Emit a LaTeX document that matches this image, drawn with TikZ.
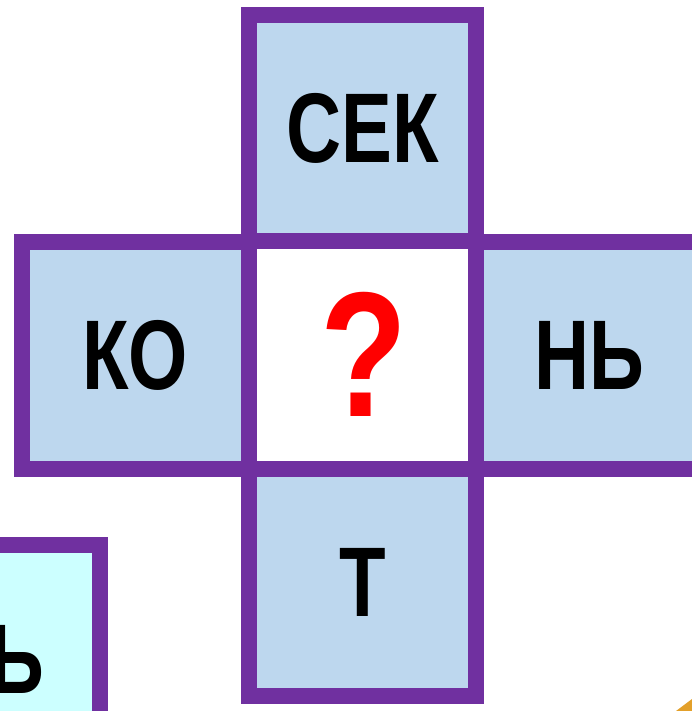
\documentclass[tikz,border=0pt]{standalone}
\usepackage{fontspec}
\newfontfamily\boxfont[FakeStretch=0.77]{Liberation Sans Bold}
\newfontfamily\qfont[FakeStretch=0.8]{Liberation Sans Bold}
\definecolor{purp}{HTML}{7030A0}
\definecolor{cellblue}{HTML}{BDD7EE}
\definecolor{cellcyan}{HTML}{CCFFFF}
\definecolor{orng}{HTML}{E3A02A}
\tikzset{
  cell/.style={draw=purp, line width=16pt, fill=cellblue, minimum width=226.7pt, minimum height=226.5pt, inner sep=0pt, font=\boxfont\fontsize{99}{99}\selectfont, text=black},
  blank/.style={fill=white, minimum width=227pt, minimum height=228pt, inner sep=0pt}
}
\begin{document}
\begin{tikzpicture}[x=1pt,y=-1pt]
\useasboundingbox (0,0) rectangle (692,711);
\fill[white] (0,0) rectangle (692,711);
% partial box bottom-left
\node[cell, fill=cellcyan] (bl) at (-13.3,658.3) {};
\node[anchor=base east, inner sep=0pt, font=\boxfont\fontsize{99}{99}\selectfont] (blt) at (44,693) {Ь};
% orange corner
\fill[orng] (676,711) -- (692,699) -- (692,711) -- cycle;
% cross
\node[blank] (c) at (362.6,355) {};
\node[cell] (top) at (362.6,128) {СЕК};
\node[cell] (left) at (135.3,355.7) {КО};
\node[cell] (right) at (589.5,355.7) {НЬ};
\node[cell] (bot) at (362.6,582.6) {Т};
\node[inner sep=0pt, text=red, font=\qfont\fontsize{178}{178}\selectfont] (q) at (363.5,354) {?};
\end{tikzpicture}
\end{document}
